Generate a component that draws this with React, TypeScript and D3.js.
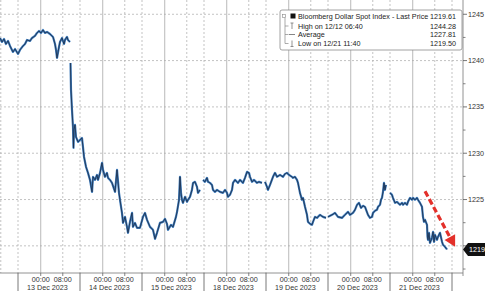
import React from "react";
import * as d3 from "d3";

const W = 485;
const H = 291;

// ---- data ----
const sessionDates = ["13 Dec 2023", "14 Dec 2023", "15 Dec 2023", "18 Dec 2023", "19 Dec 2023", "20 Dec 2023", "21 Dec 2023"];
const timeTickLabels = ["00:00", "08:00"];
const timeTickHours = [0, 8];
const SESSION_START_HOUR = -8.25; // session opens before midnight
const SESSION_HOURS = 22.5;
const yTicks = [1220, 1225, 1230, 1235, 1240, 1245];
const yMinorTicks = [1217.5, 1222.5, 1227.5, 1232.5, 1237.5, 1242.5];
const legendLabels = ["Bloomberg Dollar Spot Index - Last Price", "High on 12/12 06:40", "Average", "Low on 12/21 11:40"];
const legendValues = ["1219.61", "1244.28", "1227.81", "1219.50"];
const lastPrice = 1219.61;
const arrowFrom: [number, number] = [6.565, 1225.9];
const arrowTo: [number, number] = [7.05, 1219.9];

// [session time (days from 13 Dec session open), price]; null = gap
const priceSeries: ([number, number] | null)[] = [
  [-0.290, 1242.44], [-0.258, 1242.01], [-0.226, 1242.33], [-0.194, 1241.79], [-0.161, 1242.12],
  [-0.129, 1241.58], [-0.081, 1240.93], [-0.048, 1241.25], [0, 1240.72], [0.032, 1241.15],
  [0.081, 1241.58], [0.113, 1241.79], [0.145, 1242.23], [0.194, 1242.12], [0.226, 1242.44],
  [0.274, 1242.66], [0.306, 1242.98], [0.339, 1243.2], [0.371, 1242.98], [0.403, 1243.3],
  [0.435, 1242.98], [0.468, 1243.09], [0.516, 1242.87], [0.565, 1242.55], [0.597, 1241.79],
  [0.613, 1241.15], [0.629, 1240.28], [0.661, 1241.47], [0.677, 1242.01], [0.71, 1242.44],
  [0.742, 1241.79], [0.758, 1242.23], [0.79, 1242.55], [0.806, 1242.23], [0.839, 1242.01],
  null,
  [0.847, 1239.74], [0.855, 1236.83], [0.871, 1234.67], [0.887, 1232.84], [0.895, 1230.58],
  [0.903, 1232.52], [0.919, 1233.06], [0.935, 1231.76], [0.968, 1231.22], [1.0, 1231.44],
  [1.032, 1231.65], [1.048, 1230.68], [1.065, 1229.6], [1.097, 1228.53], [1.129, 1227.88],
  [1.161, 1227.12], [1.194, 1225.83], [1.21, 1227.45], [1.242, 1227.12], [1.274, 1227.66],
  [1.29, 1227.12], [1.323, 1227.88], [1.355, 1228.96], [1.371, 1228.2], [1.403, 1227.45],
  [1.435, 1227.88], [1.452, 1227.34], [1.484, 1227.12], [1.516, 1226.8], [1.565, 1225.83],
  [1.597, 1228.2], [1.629, 1225.72], [1.645, 1224.97], [1.677, 1223.56], [1.694, 1222.48],
  [1.726, 1223.13], [1.758, 1222.05], [1.774, 1221.41], [1.806, 1222.59], [1.839, 1223.56],
  [1.855, 1222.05], [1.887, 1222.48], [1.919, 1221.95], [1.968, 1221.95], [2.016, 1223.13],
  [2.048, 1223.56], [2.081, 1222.81], [2.129, 1222.05], [2.177, 1221.73], [2.21, 1220.76],
  [2.242, 1221.41], [2.29, 1222.48], [2.339, 1222.59], [2.371, 1222.92], [2.403, 1222.38],
  [2.419, 1221.73], [2.468, 1222.27], [2.5, 1222.05], [2.548, 1223.13], [2.565, 1223.67],
  [2.597, 1224.97], [2.613, 1227.45], [2.629, 1225.72], [2.645, 1224.97], [2.661, 1224.64],
  [2.694, 1225.29], [2.726, 1224.75], [2.742, 1224.97], [2.774, 1225.29], [2.806, 1226.04],
  [2.823, 1226.8], [2.855, 1226.91], [2.887, 1226.37], [2.903, 1225.72], [2.935, 1226.04],
  null,
  [2.984, 1227.12], [3.016, 1226.91], [3.048, 1227.34], [3.065, 1226.91], [3.097, 1226.8],
  [3.129, 1226.58], [3.145, 1226.04], [3.177, 1225.83], [3.21, 1226.04], [3.258, 1225.83],
  [3.306, 1225.72], [3.339, 1226.04], [3.371, 1225.72], [3.387, 1225.29], [3.419, 1225.51],
  [3.452, 1226.04], [3.468, 1226.8], [3.5, 1227.12], [3.532, 1226.91], [3.548, 1226.8],
  [3.581, 1227.12], [3.629, 1226.8], [3.661, 1227.34], [3.694, 1227.99], [3.726, 1227.88],
  [3.742, 1227.45], [3.774, 1226.91], [3.806, 1227.12], [3.855, 1226.8], [3.887, 1226.91],
  [3.935, 1226.8],
  null,
  [3.984, 1226.91], [4.016, 1226.37], [4.032, 1226.04], [4.065, 1226.58], [4.113, 1227.45],
  [4.145, 1227.88], [4.177, 1227.45], [4.226, 1227.66], [4.274, 1227.45], [4.306, 1227.77],
  [4.339, 1227.88], [4.371, 1227.66], [4.419, 1227.45], [4.435, 1227.34], [4.468, 1227.45],
  [4.5, 1227.12], [4.516, 1226.8], [4.548, 1225.72], [4.581, 1224.97], [4.597, 1225.18],
  [4.629, 1224.21], [4.661, 1223.35], [4.677, 1222.59], [4.71, 1222.38], [4.742, 1222.27],
  [4.758, 1222.59], [4.79, 1223.13], [4.823, 1223.02], [4.871, 1223.35], [4.919, 1223.13],
  [4.968, 1223.02],
  null,
  [5.0, 1223.13], [5.065, 1223.35], [5.113, 1223.56], [5.161, 1223.13], [5.226, 1223.02],
  [5.274, 1223.35], [5.323, 1223.67], [5.355, 1223.35], [5.403, 1223.56], [5.435, 1223.89],
  [5.468, 1224.43], [5.5, 1224.64], [5.532, 1224.1], [5.565, 1224.32], [5.597, 1224.21],
  [5.645, 1223.35], [5.677, 1223.02], [5.71, 1223.13], [5.726, 1223.56], [5.758, 1223.78],
  [5.79, 1223.89], [5.806, 1224.21], [5.839, 1224.43], [5.855, 1224.97], [5.871, 1225.18],
  [5.887, 1225.83], [5.903, 1226.8], [5.919, 1226.04], [5.935, 1226.58],
  null,
  [6.0, 1225.72], [6.032, 1225.51], [6.048, 1225.18], [6.081, 1224.64], [6.113, 1224.75],
  [6.129, 1224.64], [6.161, 1224.43], [6.194, 1224.64], [6.21, 1224.43], [6.242, 1224.64],
  [6.274, 1224.43], [6.29, 1224.75], [6.323, 1225.18], [6.355, 1224.97], [6.371, 1225.18],
  [6.403, 1224.97], [6.435, 1225.18], [6.452, 1224.97], [6.484, 1224.64], [6.516, 1224.21],
  [6.532, 1223.13], [6.548, 1222.59], [6.565, 1222.81], [6.597, 1222.27], [6.605, 1220.97],
  [6.613, 1220.65], [6.629, 1221.41], [6.645, 1220.33], [6.677, 1220.87], [6.694, 1221.51],
  [6.71, 1220.44], [6.726, 1221.19], [6.758, 1220.65], [6.774, 1220.97], [6.806, 1221.41],
  [6.839, 1220.44], [6.855, 1220.11], [6.887, 1219.9], [6.919, 1219.61],
];

const FONT = "'Liberation Sans', Arial, sans-serif";

export default function App() {
  const plotR = 463;
  const plotB = 273;
  const x = d3.scaleLinear().domain([-18 / 62, 445 / 62]).range([0, plotR]);
  const y = d3.scaleLinear().domain([1217.07, 1246.54]).range([plotB, 0]);

  const line = d3
    .line<[number, number] | null>()
    .defined((d) => d != null)
    .x((d) => x(d![0]))
    .y((d) => y(d![1]));
  const path = line(priceSeries) || "";

  const tickFrac = (h: number) => (h - SESSION_START_HOUR) / SESSION_HOURS;
  const sessIdx = d3.range(-1, sessionDates.length + 1);

  const ly = y(lastPrice);
  const ax1 = x(arrowFrom[0]), ay1 = y(arrowFrom[1]);
  const ax2 = x(arrowTo[0]), ay2 = y(arrowTo[1]);
  const ang = Math.atan2(ay2 - ay1, ax2 - ax1);
  const headL = 11, headW = 6;
  const bx = ax2 - headL * Math.cos(ang), by = ay2 - headL * Math.sin(ang);
  const px = -Math.sin(ang), py = Math.cos(ang);

  const legX = 280, legY = 10, legW = 182, legH = 40;
  const rowY = [19, 28.5, 37, 46];

  return (
    <svg width={W} height={H} style={{ position: "absolute", left: 0, top: 0, background: "#fff" }} fontFamily={FONT}>
      <defs>
        <clipPath id="plotclip">
          <rect x={0} y={0} width={plotR} height={plotB} />
        </clipPath>
      </defs>
      {/* horizontal grid */}
      {yTicks.map((v) => (
        <line key={"hg" + v} x1={0} x2={plotR} y1={y(v)} y2={y(v)} stroke="#b4b4b4" strokeWidth={0.8} strokeDasharray="2,2" />
      ))}
      {/* vertical grid */}
      {sessIdx.map((i) => {
        const xs = x(i);
        const t0 = x(i + tickFrac(timeTickHours[0]));
        const t1 = x(i + tickFrac(timeTickHours[1]));
        return (
          <g key={"vg" + i}>
            {xs >= 0 && xs <= plotR && (
              <line x1={xs} x2={xs} y1={0} y2={plotB} stroke="#b4b4b4" strokeWidth={0.8} strokeDasharray="2,2" />
            )}
            {t0 >= 0 && t0 <= plotR && <line x1={t0} x2={t0} y1={0} y2={plotB} stroke="#a8a8a8" strokeWidth={0.8} />}
            {t1 >= 0 && t1 <= plotR && (
              <line x1={t1} x2={t1} y1={0} y2={plotB} stroke="#b4b4b4" strokeWidth={0.8} strokeDasharray="2,2" />
            )}
          </g>
        );
      })}

      {/* series */}
      <g clipPath="url(#plotclip)">
        <path d={path} fill="none" stroke="#3f7cbc" strokeWidth={2.2} strokeLinejoin="round" />
        <path d={path} fill="none" stroke="#1a2b45" strokeWidth={0.8} strokeLinejoin="round" />
      </g>

      {/* axes */}
      <line x1={0} x2={plotR} y1={plotB} y2={plotB} stroke="#777" strokeWidth={0.8} />
      <line x1={plotR} x2={plotR} y1={0} y2={plotB + 3} stroke="#777" strokeWidth={0.8} />
      {yTicks.map((v) => (
        <g key={"yt" + v}>
          <line x1={plotR} x2={plotR + 4} y1={y(v)} y2={y(v)} stroke="#555" strokeWidth={0.8} />
          {Math.abs(y(v) - ly) > 8 && (
            <text x={plotR + 5} y={y(v) + 2.5} fontSize={7.2} fill="#333">
              {v}
            </text>
          )}
        </g>
      ))}
      {yMinorTicks.map((v) => (
        <line key={"ym" + v} x1={plotR} x2={plotR + 2.5} y1={y(v)} y2={y(v)} stroke="#666" strokeWidth={0.8} />
      ))}

      {/* x axis labels */}
      {sessIdx.map((i) => {
        const xs = x(i);
        return (
          <g key={"xl" + i}>
            {xs >= 0 && xs <= plotR && (
              <line x1={xs} x2={xs} y1={plotB} y2={H} stroke="#555" strokeWidth={0.8} />
            )}
            {i >= 0 && i < sessionDates.length && (
              <g>
                {timeTickHours.map((h, k) => {
                  const tx = x(i + tickFrac(h));
                  return (
                    <g key={k}>
                      <line x1={tx} x2={tx} y1={plotB} y2={plotB + 3} stroke="#666" strokeWidth={0.8} />
                      <text x={tx} y={282} fontSize={7.2} fill="#333" textAnchor="middle">
                        {timeTickLabels[k]}
                      </text>
                    </g>
                  );
                })}
                <text x={x(i + 0.475)} y={290} fontSize={7.2} fill="#333" textAnchor="middle">
                  {sessionDates[i]}
                </text>
              </g>
            )}
          </g>
        );
      })}

      {/* last price tag */}
      <path
        d={`M${plotR},${ly} L${plotR + 5},${ly - 6.5} L${W + 5},${ly - 6.5} L${W + 5},${ly + 6.5} L${plotR + 5},${ly + 6.5} Z`}
        fill="#111"
      />
      <text x={plotR + 6} y={ly + 2.6} fontSize={7.2} fill="#fff">
        {lastPrice.toFixed(2)}
      </text>

      {/* red dashed arrow */}
      <line x1={ax1} y1={ay1} x2={bx} y2={by} stroke="#e3302a" strokeWidth={3.2} strokeDasharray="6,3" />
      <path
        d={`M${ax2},${ay2} L${bx + px * headW},${by + py * headW} L${bx - px * headW},${by - py * headW} Z`}
        fill="#e3302a"
      />

      {/* legend */}
      <rect x={legX} y={legY} width={legW} height={legH} rx={2} fill="#fff" stroke="#8a8a8a" strokeWidth={0.8} />
      <line x1={285} x2={285} y1={rowY[0] - 2.5} y2={rowY[3] - 2.5} stroke="#888" strokeWidth={0.7} />
      {rowY.slice(1).map((ry, k) => (
        <line key={"st" + k} x1={285} x2={288.5} y1={ry - 2.5} y2={ry - 2.5} stroke="#888" strokeWidth={0.7} />
      ))}
      <rect x={282.5} y={rowY[0] - 4.5} width={3} height={3} fill="#fff" stroke="#888" strokeWidth={0.6} />
      <rect x={290.5} y={rowY[0] - 5.5} width={5} height={5} fill="#111" />
      {/* high marker */}
      <line x1={292} x2={292} y1={rowY[1] - 5.5} y2={rowY[1] + 0.5} stroke="#666" strokeWidth={0.7} />
      <line x1={290.5} x2={293.5} y1={rowY[1] - 5.5} y2={rowY[1] - 5.5} stroke="#666" strokeWidth={0.7} />
      {/* average */}
      <line x1={289} x2={295} y1={rowY[2] - 2.5} y2={rowY[2] - 2.5} stroke="#666" strokeWidth={0.8} />
      {/* low marker */}
      <line x1={292} x2={292} y1={rowY[3] - 5.5} y2={rowY[3] + 0.5} stroke="#666" strokeWidth={0.7} />
      <line x1={290.5} x2={293.5} y1={rowY[3] + 0.5} y2={rowY[3] + 0.5} stroke="#666" strokeWidth={0.7} />
      {legendLabels.map((l, k) => (
        <g key={"lg" + k}>
          <text x={298} y={rowY[k]} fontSize={7.2} fill="#222">
            {l}
          </text>
          <text x={456} y={rowY[k]} fontSize={7.2} fill="#222" textAnchor="end">
            {legendValues[k]}
          </text>
        </g>
      ))}
    </svg>
  );
}
